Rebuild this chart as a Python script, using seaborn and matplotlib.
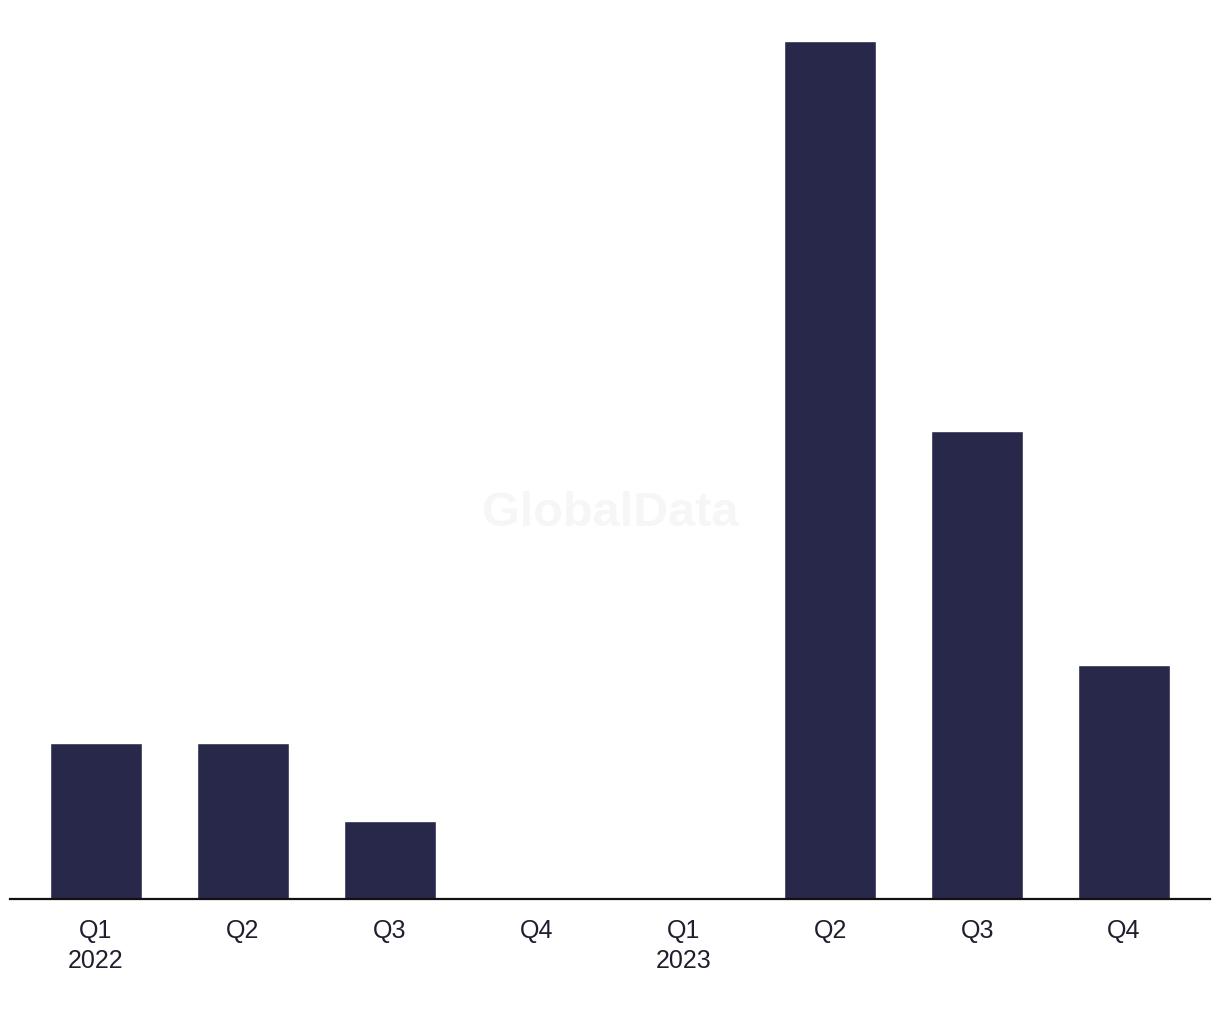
import pandas as pd
import matplotlib
matplotlib.use("Agg")
import matplotlib.pyplot as plt
import seaborn as sns

# --- data ---
quarters = ["Q1", "Q2", "Q3", "Q4", "Q1", "Q2", "Q3", "Q4"]
years = ["2022", "", "", "", "2023", "", "", ""]
deals = [2, 2, 1, 0, 0, 11, 6, 3]

labels = [q + ("\n" + y if y else "") for q, y in zip(quarters, years)]
df = pd.DataFrame({"period": [f"p{i}" for i in range(len(deals))], "deals": deals})

sns.set_theme(style="white")
plt.rcParams["font.family"] = ["Liberation Sans", "DejaVu Sans"]

fig = plt.figure(figsize=(12.2, 10.2), dpi=100)
ax = fig.add_axes([10 / 1220, 120 / 1020, 1200 / 1220, 858 / 1020])

# watermark
fig.text(0.5, 0.497, "GlobalData", ha="center", va="center", fontsize=35,
         fontweight="bold", color="#f6f6f6", zorder=0)

sns.barplot(data=df, x="period", y="deals", ax=ax, color="#28284a",
            width=0.626, saturation=1, zorder=2)

ax.set_xlim(-0.585, 7.585)
ax.set_ylim(0, 11)
ax.set_facecolor("none")
ax.set_xlabel("")
ax.set_ylabel("")
ax.set_yticks([])
ax.set_xticks(range(len(labels)))
ax.set_xticklabels(labels, fontsize=18, color="#1e1e2e", linespacing=1.3)
ax.tick_params(axis="x", length=0, pad=14)
for side in ["top", "right", "left"]:
    ax.spines[side].set_visible(False)
ax.spines["bottom"].set_color("#111111")
ax.spines["bottom"].set_linewidth(1.6)

plt.savefig("out.png", dpi=100)
